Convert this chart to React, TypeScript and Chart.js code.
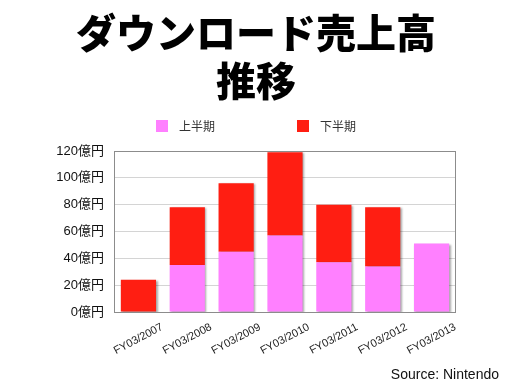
import React, { useEffect, useRef } from "react";
import { Chart, registerables } from "chart.js";

Chart.register(...registerables);

const titleLines = ["ダウンロード売上高", "推移"];
const categories = ["FY03/2007", "FY03/2008", "FY03/2009", "FY03/2010", "FY03/2011", "FY03/2012", "FY03/2013"];
const firstHalfLabel = "上半期";
const secondHalfLabel = "下半期";
const firstHalf = [0, 35, 45, 57, 37, 34, 51];
const secondHalf = [24, 43, 51, 62, 43, 44, 0];
const yUnit = "億円";
const yMin = 0;
const yMax = 120;
const yStep = 20;
const sourceText = "Source: Nintendo";

const PINK = "#FF80FF";
const RED = "#FF1E12";
const FONT = '"Noto Sans CJK JP", "Noto Sans", sans-serif';
const MIXED = '"Liberation Sans", "Noto Sans CJK JP", sans-serif';

const decorPlugin = {
  id: "decor",
  beforeDatasetsDraw(chart: any) {
    const ctx = chart.ctx;
    ctx.save();
    ctx.shadowColor = "rgba(0,0,0,0.35)";
    ctx.shadowOffsetX = 1.5;
    ctx.shadowOffsetY = 1;
    ctx.shadowBlur = 2;
  },
  afterDatasetsDraw(chart: any) {
    chart.ctx.restore();
  },
  afterDraw(chart: any) {
    const ctx = chart.ctx;
    const { left, top, right, bottom } = chart.chartArea;
    ctx.save();
    // frame
    ctx.strokeStyle = "#8c8c8c";
    ctx.lineWidth = 1;
    ctx.strokeRect(Math.round(left) + 0.5, Math.round(top) + 0.5, Math.round(right - left) - 1, Math.round(bottom - top));

    // x labels, rotated and centered on tick
    const xs = chart.scales.x;
    ctx.fillStyle = "#222";
    ctx.font = `11px ${MIXED}`;
    ctx.textAlign = "center";
    ctx.textBaseline = "middle";
    categories.forEach((c, i) => {
      const x = xs.getPixelForValue(i);
      ctx.save();
      ctx.translate(x, bottom + 27);
      ctx.rotate((-28 * Math.PI) / 180);
      ctx.fillText(c, 0, 0);
      ctx.restore();
    });

    // legend
    ctx.font = `12px ${FONT}`;
    ctx.textAlign = "left";
    const items = chart.data.datasets.map((d: any) => ({ label: d.label, color: d.backgroundColor }));
    const box = 12;
    const gapText = 11;
    const gapItem = 82;
    const widths = items.map((it: any) => box + gapText + ctx.measureText(it.label).width);
    const total = widths.reduce((a: number, b: number) => a + b, 0) + gapItem * (items.length - 1);
    let x = chart.width / 2 - total / 2;
    const cy = 126;
    items.forEach((it: any, i: number) => {
      ctx.fillStyle = it.color;
      ctx.fillRect(x, cy - box / 2, box, box);
      ctx.fillStyle = "#333";
      ctx.fillText(it.label, x + box + gapText, cy);
      x += widths[i] + gapItem;
    });

    // source
    ctx.font = `14px ${MIXED}`;
    ctx.fillStyle = "#111";
    ctx.textAlign = "right";
    ctx.fillText(sourceText, 499, 375);
    ctx.restore();
  },
};

export default function App() {
  const ref = useRef<HTMLCanvasElement | null>(null);
  useEffect(() => {
    if (!ref.current) return;
    const chart = new Chart(ref.current, {
      type: "bar",
      data: {
        labels: categories,
        datasets: [
          { label: firstHalfLabel, data: firstHalf, backgroundColor: PINK, yAxisID: "y" },
          { label: secondHalfLabel, data: secondHalf, backgroundColor: RED, yAxisID: "y" },
        ],
      },
      options: {
        responsive: false,
        animation: false,
        layout: { padding: 0 },
        datasets: { bar: { barPercentage: 0.72, categoryPercentage: 1 } },
        plugins: {
          legend: { display: false },
          tooltip: { enabled: false },
          title: {
            display: true,
            text: titleLines,
            color: "#000",
            font: { family: FONT, size: 40, weight: "900", lineHeight: 1.22 },
            padding: { top: 8, bottom: 45.4 },
          },
        },
        scales: {
          x: {
            stacked: true,
            grid: { display: false },
            border: { display: false },
            ticks: { display: false },
            afterFit: (s: any) => {
              s.height = 72;
            },
          },
          y: {
            stacked: true,
            min: yMin,
            max: yMax,
            ticks: {
              stepSize: yStep,
              padding: 10,
              color: "#111",
              font: { family: MIXED, size: 13 },
              callback: (v: any) => `${v}${yUnit}`,
            },
            grid: { color: "#d4d4d4", drawTicks: false, tickLength: 0 },
            border: { display: false },
            afterFit: (s: any) => {
              s.width = 114;
            },
          },
          y2: {
            position: "right",
            display: true,
            ticks: { display: false },
            grid: { display: false },
            border: { display: false },
            afterFit: (s: any) => {
              s.width = 56;
            },
          },
        },
      },
      plugins: [decorPlugin],
    } as any);
    return () => chart.destroy();
  }, []);
  return (
    <div style={{ position: "fixed", left: 0, top: 0, width: 512, height: 384, background: "#fff" }}>
      <canvas ref={ref} width={512} height={384} style={{ display: "block" }} />
    </div>
  );
}
